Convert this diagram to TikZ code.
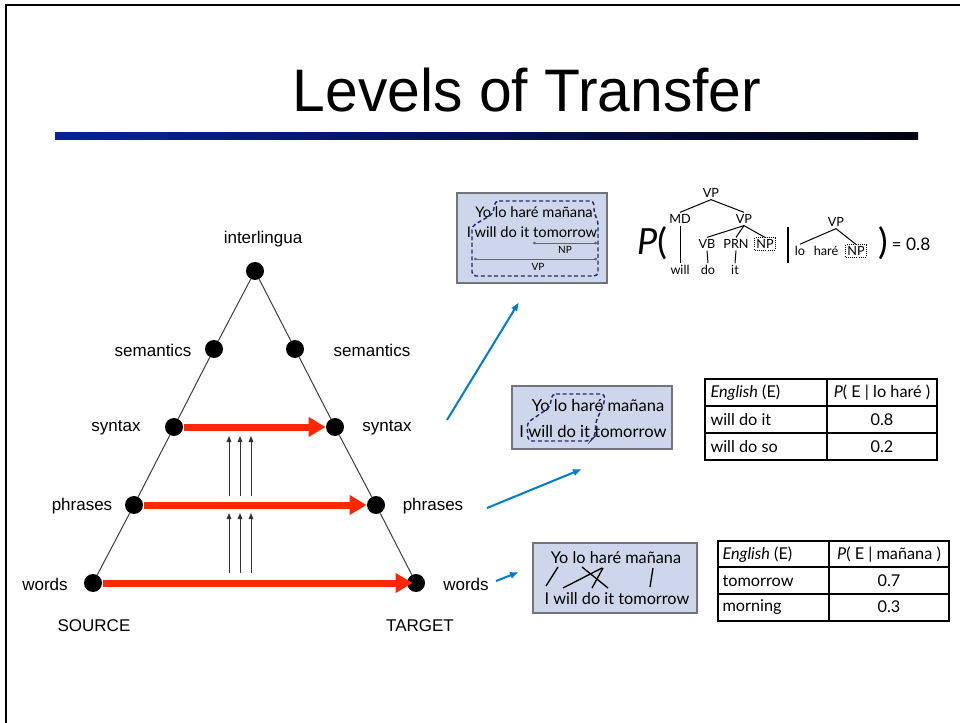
\documentclass[tikz,border=0pt]{standalone}
\usepackage{fontspec}
\setmainfont{Liberation Sans}
\newfontfamily\gill{Lato}
\usetikzlibrary{arrows.meta}

\definecolor{slidered}{RGB}{255,40,0}
\definecolor{linkblue}{RGB}{0,122,204}
\definecolor{boxfill}{RGB}{205,214,234}
\definecolor{boxedge}{RGB}{115,115,125}
\definecolor{dashnavy}{RGB}{40,40,110}
\definecolor{sidegray}{RGB}{60,60,60}
\definecolor{barblue}{RGB}{10,55,215}
\definecolor{barnavy}{RGB}{5,20,100}

\pgfdeclarehorizontalshading{titlebar}{100bp}{color(0bp)=(barblue); color(45bp)=(barnavy); color(80bp)=(black); color(100bp)=(black)}

\tikzset{every picture/.style={line width=0.75pt}}
\tikzset{
  level/.style={circle,fill=black,inner sep=0pt,minimum size=13.5pt},
  lvl/.style={font=\fontsize{12.75}{15}\selectfont,inner sep=0pt},
  side/.style={draw=sidegray,line width=0.75pt},
  transfer/.style={draw=slidered,line width=5.25pt,-{Triangle[length=12.75pt,width=14.25pt]}},
  lift/.style={draw=black!80,line width=0.75pt,-{Triangle[length=4.5pt,width=3.5pt]}},
  link/.style={draw=linkblue,line width=1.5pt,-{Latex[length=6.75pt,width=5.5pt]}},
  wordbox/.style={draw=boxedge,fill=boxfill,line width=0.9pt},
  boxtxt/.style={font=\gill\fontsize{11}{13}\selectfont,inner sep=0pt},
  boxsmall/.style={font=\gill\fontsize{7.5}{9}\selectfont,inner sep=0pt},
  dashline/.style={draw=dashnavy,line width=1.1pt,dash pattern=on 3pt off 2pt,rounded corners=3pt},
  span/.style={draw=black!60,line width=0.5pt,{Circle[length=2pt]}-{Circle[length=2pt]}},
  alignln/.style={draw=black,line width=1pt},
  tbl/.style={draw=black,line width=1pt},
  cell/.style={font=\gill\fontsize{12.2}{14}\selectfont,inner sep=0pt},
  tag/.style={font=\gill\fontsize{9.5}{11}\selectfont,inner sep=1.2pt},
  slot/.style={draw=black,densely dotted,line width=0.6pt,inner sep=1.2pt},
  branch/.style={draw=black,line width=0.75pt},
  bigsym/.style={font=\gill\fontsize{27}{30}\selectfont,inner sep=0pt}
}

\begin{document}
\begin{tikzpicture}[x=0.75pt,y=0.75pt,yscale=-1,xscale=1]
\useasboundingbox (0,0) rectangle (960,723);

% slide frame, title and rule
\draw [line width=2pt] (6,723) -- (6,5) -- (960,5) ;
\draw (527,90) node (title) [font=\fontsize{45}{54}\selectfont,xscale=0.98] {Levels of Transfer};
\shade [shading=titlebar] (55,133) rectangle (918,140) ;

% the transfer triangle
\node [level] (il) at (255,271) {};
\node [level] (seml) at (214,349) {};
\node [level] (semr) at (295,349) {};
\node [level] (synl) at (174,427) {};
\node [level] (synr) at (335,427) {};
\node [level] (phrl) at (134,505) {};
\node [level] (phrr) at (376,505) {};
\node [level] (wdl) at (93,583) {};
\node [level] (wdr) at (416,583) {};

\draw [side] (il) -- (seml) -- (synl) -- (phrl) -- (wdl) ;
\draw [side] (il) -- (semr) -- (synr) -- (phrr) -- (wdr) ;

\draw [transfer] (synl) -- (synr) ;
\draw [transfer] (phrl) -- (phrr) ;
\draw [transfer,shorten >=-4.5pt] (wdl) -- (wdr) ;

\coordinate (ua1) at (229,496) ; \coordinate (ub1) at (229,436) ;
\coordinate (ua2) at (240,496) ; \coordinate (ub2) at (240,436) ;
\coordinate (ua3) at (251,496) ; \coordinate (ub3) at (251,436) ;
\coordinate (la1) at (229,573) ; \coordinate (lb1) at (229,513) ;
\coordinate (la2) at (240,573) ; \coordinate (lb2) at (240,513) ;
\coordinate (la3) at (251,573) ; \coordinate (lb3) at (251,513) ;
\draw [lift] (ua1) -- (ub1) ;
\draw [lift] (ua2) -- (ub2) ;
\draw [lift] (ua3) -- (ub3) ;
\draw [lift] (la1) -- (lb1) ;
\draw [lift] (la2) -- (lb2) ;
\draw [lift] (la3) -- (lb3) ;

\draw (263,239) node (ilLbl) [lvl] {interlingua};
\draw (153,350) node (semlLbl) [lvl] {semantics};
\draw (372,350) node (semrLbl) [lvl] {semantics};
\draw (116,428) node (synlLbl) [lvl] {syntax};
\draw (387,428) node (synrLbl) [lvl] {syntax};
\draw (82,506) node (phrlLbl) [lvl] {phrases};
\draw (433,506) node (phrrLbl) [lvl] {phrases};
\draw (45,584) node (wdlLbl) [lvl] {words};
\draw (466,584) node (wdrLbl) [lvl] {words};
\draw (94,626) node (srcLbl) [lvl] {SOURCE};
\draw (420,626) node (tgtLbl) [lvl] {TARGET};

% arrows out to the examples
\coordinate (synOut) at (447,420) ; \coordinate (toTree) at (519,302) ;
\coordinate (phrOut) at (487,508) ; \coordinate (toPhr) at (582,469) ;
\coordinate (wdOut) at (496,581) ; \coordinate (toWd) at (519,572) ;
\draw [link] (synOut) -- (toTree) ;
\draw [link] (phrOut) -- (toPhr) ;
\draw [link] (wdOut) -- (toWd) ;

% syntax example box
\draw [wordbox] (457,193) rectangle (607,283) ;
\draw (534,212) node (b1src) [boxtxt] {Yo lo haré mañana};
\draw (532,232) node (b1tgt) [boxtxt] {I will do it tomorrow};
\coordinate (npA) at (533,243) ; \coordinate (npB) at (597,243) ;
\coordinate (vpA) at (474,259) ; \coordinate (vpB) at (597,259) ;
\draw [span] (npA) -- (npB) ;
\draw [span] (vpA) -- (vpB) ;
\draw (565,250) node (b1np) [boxsmall] {NP};
\draw (538,267) node (b1vp) [boxsmall] {VP};
\draw [dashline] (495,201) -- (594,201) -- (594,213) -- (598,221) -- (598,276) -- (472,276) -- (472,226) -- (493,214) -- cycle ;

% tree probability
\draw (652,243) node (pOpen) [bigsym] {\textit{P}(};
\draw (711,193) node (vpTop) [tag] {VP};
\draw (680,219) node (md) [tag] {MD};
\draw (744,219) node (vpIn) [tag] {VP};
\draw (707,244) node (vb) [tag] {VB};
\draw (736,244) node (prn) [tag] {PRN};
\draw (765,244) node (npL) [tag,slot] {NP};
\draw (680,270) node (wWill) [tag] {will};
\draw (708,270) node (wDo) [tag] {do};
\draw (735,270) node (wIt) [tag] {it};
\draw [branch] (vpTop.south) -- (md.north) ;
\draw [branch] (vpTop.south) -- (vpIn.north) ;
\draw [branch] (md.south) -- (wWill.north) ;
\draw [branch] (vpIn.south) -- (vb.north) ;
\draw [branch] (vpIn.south) -- (prn.north) ;
\draw [branch] (vpIn.south) -- (npL.north) ;
\draw [branch] (vb.south) -- (wDo.north) ;
\draw [branch] (prn.south) -- (wIt.north) ;
\coordinate (barTop) at (788,227) ; \coordinate (barBot) at (788,263) ;
\draw [line width=2.2pt] (barTop) -- (barBot) ;
\draw (836,222) node (vpR) [tag] {VP};
\draw (800,251) node (lo) [tag] {lo};
\draw (826,251) node (hare) [tag] {haré};
\draw (856,251) node (npR) [tag,slot] {NP};
\draw [branch] (vpR.south) -- (lo.north) ;
\draw [branch] (vpR.south) -- (npR.north) ;
\draw (883,243) node (pClose) [bigsym] {)};
\draw (911,244) node (pVal) [cell,font=\gill\fontsize{13}{15}\selectfont] {= 0.8};

% phrase example box
\draw [wordbox] (512,386) rectangle (672,449) ;
\draw (598,405) node (b2src) [boxtxt,font=\gill\fontsize{12.4}{14}\selectfont] {Yo lo haré mañana};
\draw (593,431) node (b2tgt) [boxtxt,font=\gill\fontsize{12.4}{14}\selectfont] {I will do it tomorrow};
\draw [dashline] (552,394) -- (605,394) -- (604,404) -- (596,421) -- (595,436) -- (590,441) -- (528,441) -- (527,423) -- (550,407) -- cycle ;

% phrase table
\draw [tbl] (705,379) rectangle (937,460) ;
\draw [tbl] (705,406) -- (937,406) ;
\draw [tbl] (705,433) -- (937,433) ;
\draw [tbl] (827,379) -- (827,460) ;
\draw (710,393) node (t1h1) [cell,anchor=west] {\textit{English} (E)};
\draw (882,393) node (t1h2) [cell] {\textit{P}( E | lo haré )};
\draw (710,420) node (t1r1) [cell,anchor=west] {will do it};
\draw (882,420) node (t1p1) [cell] {0.8};
\draw (710,447) node (t1r2) [cell,anchor=west] {will do so};
\draw (882,447) node (t1p2) [cell] {0.2};

% word example box
\draw [wordbox] (533,543) rectangle (697,613) ;
\draw (616,558) node (b3src) [boxtxt,font=\gill\fontsize{12.2}{14}\selectfont] {Yo lo haré mañana};
\draw (617,599) node (b3tgt) [boxtxt,font=\gill\fontsize{12.2}{14}\selectfont] {I will do it tomorrow};
\coordinate (aYo) at (558,567) ; \coordinate (aI) at (546,586) ;
\coordinate (aHa) at (602,568) ; \coordinate (aWill) at (563,588) ;
\coordinate (aHb) at (603,568) ; \coordinate (aDo) at (592,588) ;
\coordinate (aLo) at (582,567) ; \coordinate (aIt) at (608,588) ;
\coordinate (aMan) at (653,568) ; \coordinate (aTom) at (650,587) ;
\draw [alignln] (aYo) -- (aI) ;
\draw [alignln] (aHa) -- (aWill) ;
\draw [alignln] (aHb) -- (aDo) ;
\draw [alignln] (aLo) -- (aIt) ;
\draw [alignln] (aMan) -- (aTom) ;

% word table
\draw [tbl] (718,541) rectangle (949,621) ;
\draw [tbl] (718,567) -- (949,567) ;
\draw [tbl] (718,594) -- (949,594) ;
\draw [tbl] (829,541) -- (829,621) ;
\draw (722,555) node (t2h1) [cell,anchor=west] {\textit{English} (E)};
\draw (889,555) node (t2h2) [cell] {\textit{P}( E | mañana )};
\draw (722,581) node (t2r1) [cell,anchor=west] {tomorrow};
\draw (889,581) node (t2p1) [cell] {0.7};
\draw (722,607) node (t2r2) [cell,anchor=west] {morning};
\draw (889,607) node (t2p2) [cell] {0.3};

\end{tikzpicture}
\end{document}
